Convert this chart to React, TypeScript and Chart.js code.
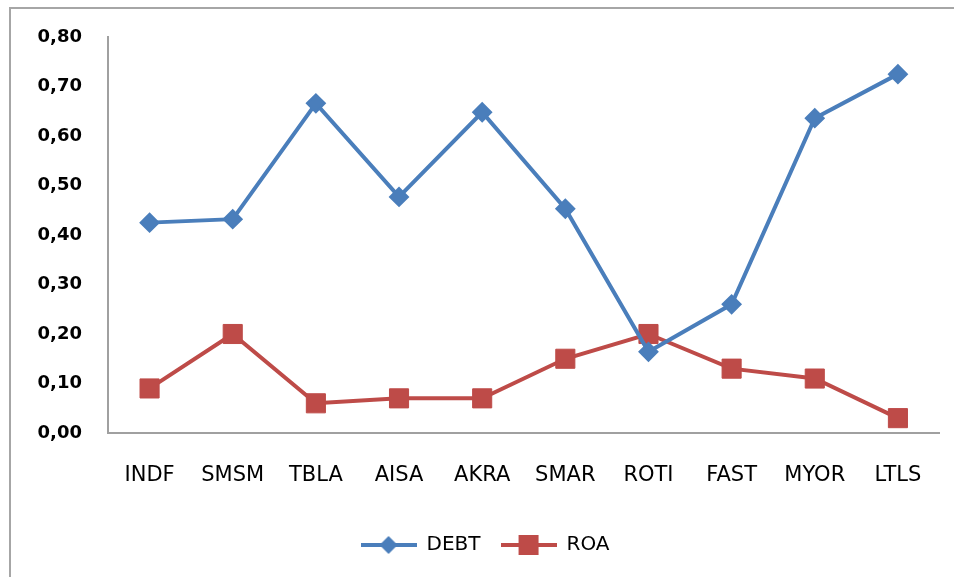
import React, { useEffect, useRef } from "react";
import { Chart, registerables } from "chart.js";

Chart.register(...registerables);

const categories = ["INDF", "SMSM", "TBLA", "AISA", "AKRA", "SMAR", "ROTI", "FAST", "MYOR", "LTLS"];
const debtValues = [0.425, 0.432, 0.666, 0.477, 0.648, 0.453, 0.164, 0.26, 0.636, 0.725];
const roaValues = [0.09, 0.2, 0.06, 0.07, 0.07, 0.15, 0.2, 0.13, 0.11, 0.03];
const yTicks = [0, 0.1, 0.2, 0.3, 0.4, 0.5, 0.6, 0.7, 0.8];

const BLUE = "#4A7EBB";
const RED = "#BE4B48";
const AXIS = "#A0A0A0";

function legendSymbol(color: string, kind: "diamond" | "square"): HTMLCanvasElement {
  const c = document.createElement("canvas");
  c.width = 56;
  c.height = 22;
  const ctx = c.getContext("2d")!;
  ctx.strokeStyle = color;
  ctx.lineWidth = 4;
  ctx.beginPath();
  ctx.moveTo(0, 11);
  ctx.lineTo(56, 11);
  ctx.stroke();
  ctx.fillStyle = color;
  ctx.beginPath();
  if (kind === "diamond") {
    ctx.moveTo(28, 2);
    ctx.lineTo(37, 11);
    ctx.lineTo(28, 20);
    ctx.lineTo(19, 11);
    ctx.closePath();
  } else {
    ctx.rect(18, 1, 20, 20);
  }
  ctx.fill();
  return c;
}

export default function App() {
  const ref = useRef<HTMLCanvasElement | null>(null);

  useEffect(() => {
    if (!ref.current) return;
    const symbols = [legendSymbol(BLUE, "diamond"), legendSymbol(RED, "square")];
    const chart = new Chart(ref.current, {
      type: "line",
      data: {
        labels: categories,
        datasets: [
          {
            label: "DEBT",
            data: debtValues,
            borderColor: BLUE,
            backgroundColor: BLUE,
            borderWidth: 4,
            pointStyle: "rectRot",
            pointRadius: 9,
            pointBorderWidth: 2,
            tension: 0,
          },
          {
            label: "ROA",
            data: roaValues,
            borderColor: RED,
            backgroundColor: RED,
            borderWidth: 4,
            pointStyle: "rect",
            pointRadius: 13.5,
            pointBorderWidth: 1,
            tension: 0,
          },
        ],
      },
      options: {
        responsive: false,
        animation: false,
        devicePixelRatio: 1,
        layout: { padding: { left: 30, right: 14, top: 37, bottom: 12 } },
        scales: {
          x: {
            type: "category",
            offset: true,
            grid: { display: false },
            border: { display: true, color: AXIS, width: 2 },
            ticks: {
              padding: 22,
              color: "#000",
              font: { family: "DejaVu Sans", size: 21 },
              maxRotation: 0,
            },
            afterFit: (scale: any) => {
              scale.height = 82;
            },
          },
          y: {
            min: 0,
            max: 0.8,
            grid: { display: false },
            border: { display: true, color: AXIS, width: 2 },
            afterBuildTicks: (scale: any) => {
              scale.ticks = yTicks.map((v) => ({ value: v }));
            },
            ticks: {
              padding: 18,
              color: "#000",
              font: { family: "DejaVu Sans", size: 18, weight: "bold" },
              callback: (v: any) => Number(v).toFixed(2).replace(".", ","),
            },
            afterFit: (scale: any) => {
              scale.width = 78;
            },
          },
        },
        plugins: {
          title: { display: false },
          tooltip: { enabled: false },
          legend: {
            display: true,
            position: "bottom",
            labels: {
              usePointStyle: true,
              pointStyleWidth: 56,
              padding: 20,
              color: "#000",
              font: { family: "DejaVu Sans", size: 20 },
              generateLabels: (ch: any) => {
                const base = Chart.defaults.plugins.legend.labels.generateLabels(ch);
                return base.map((item: any, i: number) => ({ ...item, pointStyle: symbols[i], lineWidth: 0 }));
              },
            },
          },
        },
      },
    });
    return () => chart.destroy();
  }, []);

  return (
    <div style={{ position: "fixed", left: 0, top: 0, width: 954, height: 577, background: "#fff", overflow: "hidden" }}>
      <div
        style={{
          position: "absolute",
          left: 9,
          top: 7,
          width: 2000,
          height: 2000,
          borderLeft: "2px solid #a6a6a6",
          borderTop: "2px solid #a6a6a6",
        }}
      />
      <canvas ref={ref} width={954} height={577} style={{ position: "absolute", left: 0, top: 0, display: "block" }} />
    </div>
  );
}
